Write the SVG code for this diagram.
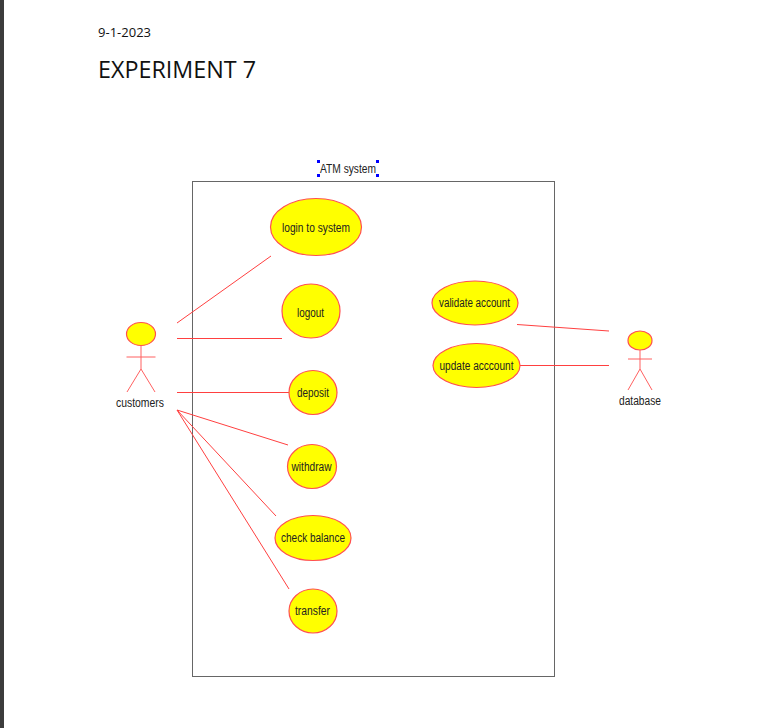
<svg xmlns="http://www.w3.org/2000/svg" width="778" height="728" viewBox="0 0 778 728">
<style>
.uc{fill:#ffff00;stroke:#ff5050;stroke-width:1.2}
.ln{stroke:#ff4040;stroke-width:1;fill:none}
.ac{stroke:#ff6060;stroke-width:1;fill:none}
.t{font-family:"Liberation Sans",Arial,sans-serif;font-size:12.500px;fill:#222;text-anchor:middle}
.doc{font-family:"Open Sans","Noto Sans",sans-serif;fill:#111}
.h{fill:#0000ff}
</style>
<rect width="778" height="728" fill="#fff"/>
<rect x="0" y="0" width="4" height="728" fill="#3c3c3c"/>
<text class="doc" x="98" y="37" font-size="13" textLength="53">9-1-2023</text>
<text class="doc" x="98" y="78" font-size="23" textLength="158" lengthAdjust="spacingAndGlyphs">EXPERIMENT 7</text>
<g id="system">
<rect x="192.500" y="181.500" width="362" height="495" fill="none" stroke="#666" stroke-width="1"/>
<text class="t" x="348" y="173" textLength="56" lengthAdjust="spacingAndGlyphs">ATM system</text>
<rect class="h" x="317" y="160" width="3" height="3"/><rect class="h" x="376" y="160" width="3" height="3"/>
<rect class="h" x="317" y="174" width="3" height="3"/><rect class="h" x="376" y="174" width="3" height="3"/>
</g>
<g id="connectors">
<line class="ln" x1="177" y1="323" x2="271" y2="256"/>
<line class="ln" x1="177" y1="338.500" x2="282" y2="338.500"/>
<line class="ln" x1="177" y1="392.500" x2="289" y2="392.500"/>
<line class="ln" x1="177" y1="410" x2="288" y2="445"/>
<line class="ln" x1="177" y1="410" x2="276" y2="516"/>
<line class="ln" x1="177" y1="410" x2="289" y2="589"/>
<line class="ln" x1="517" y1="324.500" x2="609" y2="331"/>
<line class="ln" x1="520" y1="365.500" x2="609" y2="365.500"/>
</g>
<g id="customers">
<ellipse class="uc" cx="141" cy="334" rx="14.500" ry="11.500"/>
<path class="ac" d="M141 346V369M126.500 357H155.500M141 369L127 392M141 369L155 392"/>
<text class="t" x="140" y="407" textLength="48" lengthAdjust="spacingAndGlyphs">customers</text>
</g>
<g id="database">
<ellipse class="uc" cx="640" cy="340.500" rx="12" ry="9.500"/>
<path class="ac" d="M640 350V369M628 359H652M640 369L628 390M640 369L652 390"/>
<text class="t" x="640" y="405" textLength="42" lengthAdjust="spacingAndGlyphs">database</text>
</g>
<g id="login"><ellipse class="uc" cx="316" cy="227" rx="45.500" ry="28.500"/><text class="t" x="316" y="232" textLength="68" lengthAdjust="spacingAndGlyphs">login to system</text></g>
<g id="logout"><ellipse class="uc" cx="311" cy="311" rx="29" ry="27"/><text class="t" x="310.500" y="317" textLength="27" lengthAdjust="spacingAndGlyphs">logout</text></g>
<g id="deposit"><ellipse class="uc" cx="313" cy="392.500" rx="24" ry="22"/><text class="t" x="313" y="397" textLength="32" lengthAdjust="spacingAndGlyphs">deposit</text></g>
<g id="withdraw"><ellipse class="uc" cx="312" cy="466.500" rx="24.500" ry="22"/><text class="t" x="311.500" y="471" textLength="40" lengthAdjust="spacingAndGlyphs">withdraw</text></g>
<g id="check-balance"><ellipse class="uc" cx="313" cy="538" rx="38" ry="22.500"/><text class="t" x="313" y="542" textLength="64" lengthAdjust="spacingAndGlyphs">check balance</text></g>
<g id="transfer"><ellipse class="uc" cx="313" cy="611" rx="24" ry="22"/><text class="t" x="312.500" y="615" textLength="35" lengthAdjust="spacingAndGlyphs">transfer</text></g>
<g id="validate"><ellipse class="uc" cx="475" cy="303" rx="43" ry="22"/><text class="t" x="474.500" y="307" textLength="71" lengthAdjust="spacingAndGlyphs">validate account</text></g>
<g id="update"><ellipse class="uc" cx="476.500" cy="365.500" rx="43.500" ry="22"/><text class="t" x="476.500" y="370" textLength="74" lengthAdjust="spacingAndGlyphs">update acccount</text></g>
</svg>
